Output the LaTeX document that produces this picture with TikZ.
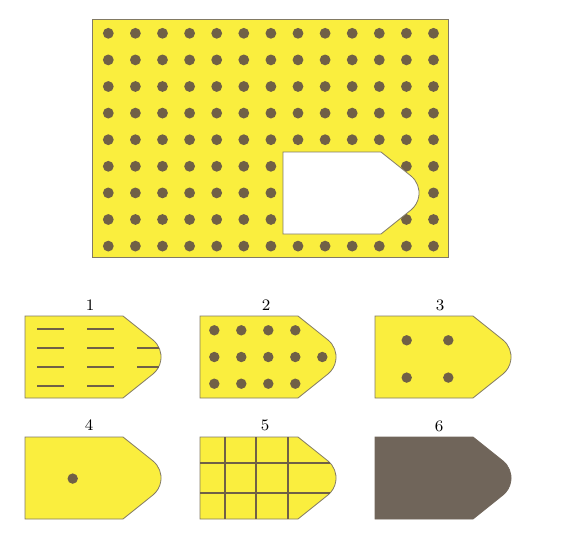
\documentclass[tikz,border=0pt]{standalone}
\usetikzlibrary{positioning}
\definecolor{tagyellow}{RGB}{250,238,62}
\definecolor{pegbrown}{RGB}{112,96,70}
\definecolor{edgegray}{RGB}{130,122,100}
\definecolor{darkpiece}{RGB}{112,101,90}

\begin{document}
\begin{tikzpicture}[x=0.5pt,y=-0.5pt,
    tagpiece/.pic={
      \path[pic actions] (0,0) -- (98,0) -- (127.8,23.8)
        arc[start angle=-51.3,end angle=51.3,radius=22]
        -- (98,82) -- (0,82) -- cycle;
    },
    piece/.style={fill=tagyellow,draw=edgegray},
    peg/.style={fill=pegbrown},
    slot/.style={pegbrown,line width=1pt},
    gridline/.style={pegbrown,line width=0.9pt},
    num/.style={font=\footnotesize}
  ]
  \useasboundingbox (0,0) rectangle (563,552);

  % board with holes
  \draw[piece] (92,19) rectangle (448,257);
  \foreach \c in {0,...,12}
    \foreach \r in {0,...,8}
      \fill[peg] (108.3+27.1*\c,33.3+26.6*\r) circle[radius=5.4];
  \pic[fill=white,draw=edgegray] at (283,152) {tagpiece};

  % answers
  \pic[piece] at (25,316) {tagpiece};
  \pic[piece] at (200,316) {tagpiece};
  \pic[piece] at (375,316) {tagpiece};
  \pic[piece] at (25,437) {tagpiece};
  \pic[piece] at (200,437) {tagpiece};
  \pic[fill=darkpiece,draw=darkpiece] at (375,437) {tagpiece};

  \node[num] (lab1) at (90,305) {1};
  \node[num] (lab2) at (266,305) {2};
  \node[num] (lab3) at (440,305) {3};
  \node[num] (lab4) at (89,425) {4};
  \node[num] (lab5) at (265,425) {5};
  \node[num] (lab6) at (439,426) {6};

  % 1: slots
  \begin{scope}[shift={(25,316)}]
    \foreach \r in {13,32,51,70} {
      \draw[slot] (12,\r) -- (39,\r);
      \draw[slot] (62,\r) -- (89,\r);
    }
    \draw[slot] (112,32) -- (134.1,32);
    \draw[slot] (112,51) -- (133.6,51);
  \end{scope}

  % 2: pegs
  \begin{scope}[shift={(200,316)}]
    \foreach \i in {0,...,3} {
      \fill[peg] (14.3+27*\i,14.3) circle[radius=5.2];
      \fill[peg] (14.3+27*\i,67.7) circle[radius=5.2];
    }
    \foreach \i in {0,...,4}
      \fill[peg] (14.3+27*\i,41) circle[radius=5.2];
  \end{scope}

  % 3: four pegs
  \begin{scope}[shift={(375,316)}]
    \foreach \px in {31.7,73.3}
      \foreach \py in {24.3,61.6}
        \fill[peg] (\px,\py) circle[radius=5.2];
  \end{scope}

  % 4: one peg
  \fill[peg] (72.7,478.6) circle[radius=5.2];

  % 5: grid
  \begin{scope}[shift={(200,437)}]
    \foreach \gx in {25,56,88}
      \draw[gridline] (\gx,0) -- (\gx,82);
    \draw[gridline] (0,26) -- (130.1,26);
    \draw[gridline] (0,56) -- (130.1,56);
  \end{scope}
\end{tikzpicture}
\end{document}
